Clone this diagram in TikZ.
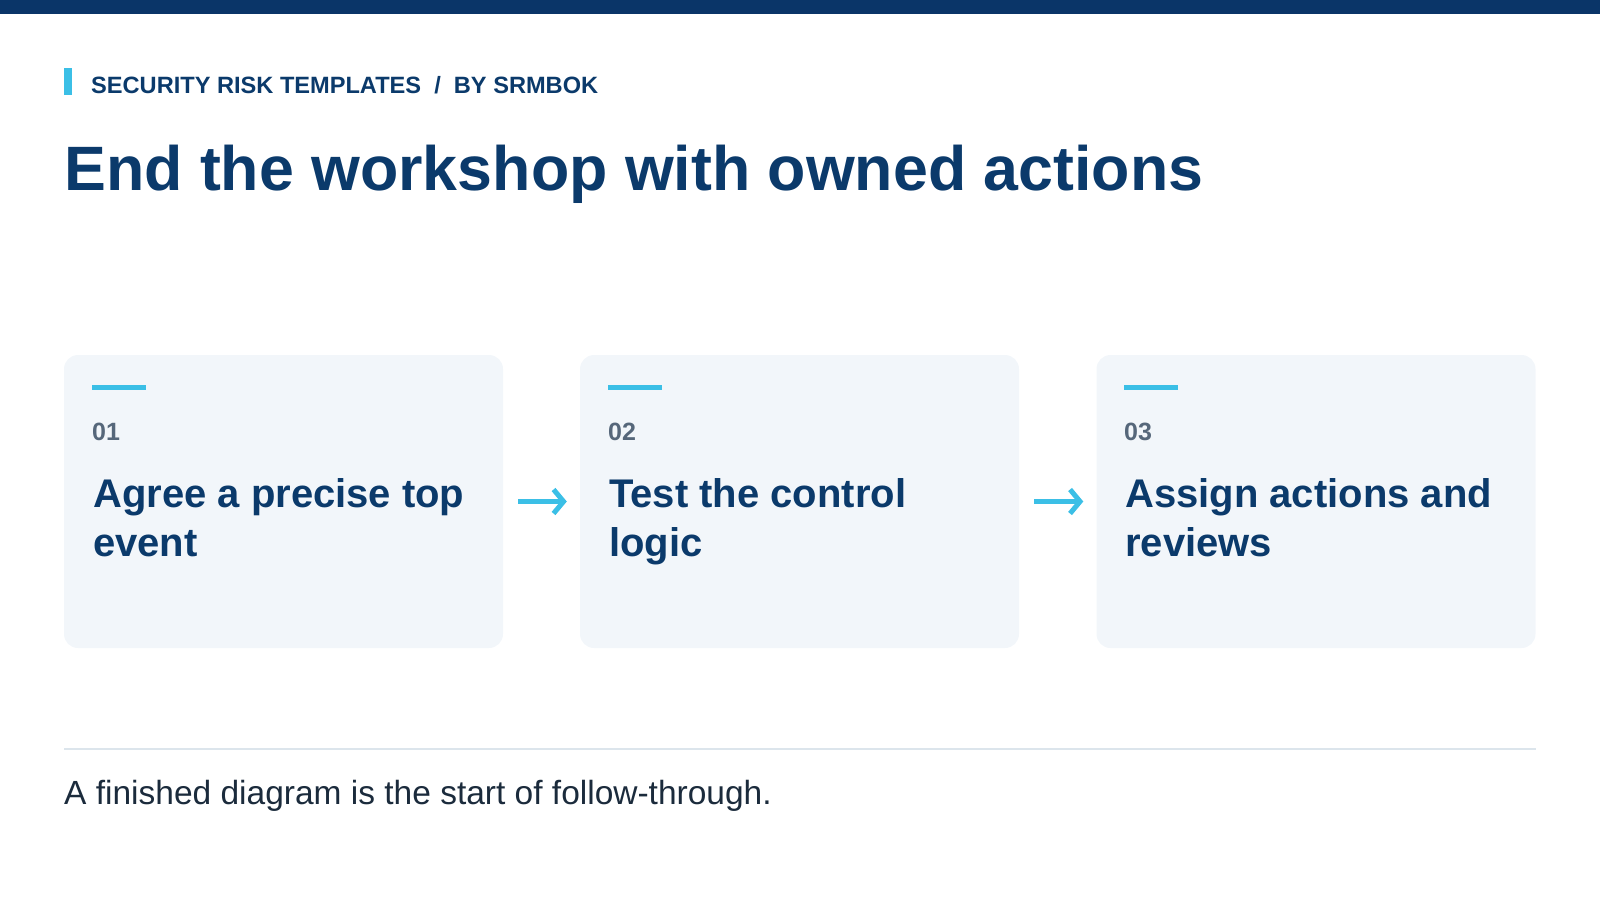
\documentclass[tikz,border=0pt]{standalone}
\usepackage{fontspec}
\setmainfont{Liberation Sans}
\usetikzlibrary{arrows.meta}
\definecolor{topbar}{HTML}{0A3568}
\definecolor{navy}{HTML}{0B3A6B}
\definecolor{skyline}{HTML}{3BBFE6}
\definecolor{slate}{HTML}{56677A}
\definecolor{cardfill}{HTML}{F2F6FA}
\definecolor{rulegray}{HTML}{DCE5EC}
\definecolor{inkdark}{HTML}{1B2B3C}
\begin{document}
\begin{tikzpicture}[x=1pt,y=-1pt,
    card/.style={fill=cardfill, rounded corners=14pt, minimum width=439pt, minimum height=293pt, inner sep=0pt},
    accent/.style={draw=skyline, line width=5pt},
    stepnum/.style={anchor=base west, inner sep=0pt, text=slate, font=\bfseries\fontsize{25}{30}\selectfont},
    steptext/.style={anchor=north west, inner sep=0pt, align=left, text=navy, font=\bfseries\fontsize{40}{49}\selectfont},
    flow/.style={draw=skyline, line width=5pt, -{Straight Barb[length=10pt, width=24pt]}}]
        \useasboundingbox (0,0) rectangle (1600,900);
        % header
        \fill[topbar] (0,0) rectangle (1600,14);
        \fill[skyline] (64,68) rectangle (72,95);
        \node[anchor=base west, inner sep=0pt, text=navy, font=\bfseries\fontsize{23.6}{28}\selectfont] (kicker) at (91,93) {SECURITY RISK TEMPLATES \ / \ BY SRMBOK};
        \node[anchor=base west, inner sep=0pt, text=navy, font=\bfseries\fontsize{62.7}{76}\selectfont] (title) at (64,190) {End the workshop with owned actions};
        % steps
        \node[card] (agree) at (283.5,501.5) {};
        \node[card] (test) at (799.5,501.5) {};
        \node[card] (assign) at (1316,501.5) {};
        \draw[accent] (92,387.5) -- (146,387.5);
        \draw[accent] (608,387.5) -- (662,387.5);
        \draw[accent] (1124,387.5) -- (1178,387.5);
        \node[stepnum] (n1) at (92,440) {01};
        \node[stepnum] (n2) at (608,440) {02};
        \node[stepnum] (n3) at (1124,440) {03};
        \node[steptext] (t1) at (93,478) {Agree a precise top\\event};
        \node[steptext] (t2) at (609,478) {Test the control\\logic};
        \node[steptext] (t3) at (1125,478) {Assign actions and\\reviews};
        \draw[flow] ([xshift=15pt]agree.east) -- ([xshift=-13pt]test.west);
        \draw[flow] ([xshift=15pt]test.east) -- ([xshift=-13pt]assign.west);
        % footer
        \draw[rulegray, line width=2pt] (64,749) -- (1536,749);
        \node[anchor=base west, inner sep=0pt, text=inkdark, font=\fontsize{33.5}{40}\selectfont] (note) at (64,804) {A finished diagram is the start of follow-through.};
\end{tikzpicture}
\end{document}
